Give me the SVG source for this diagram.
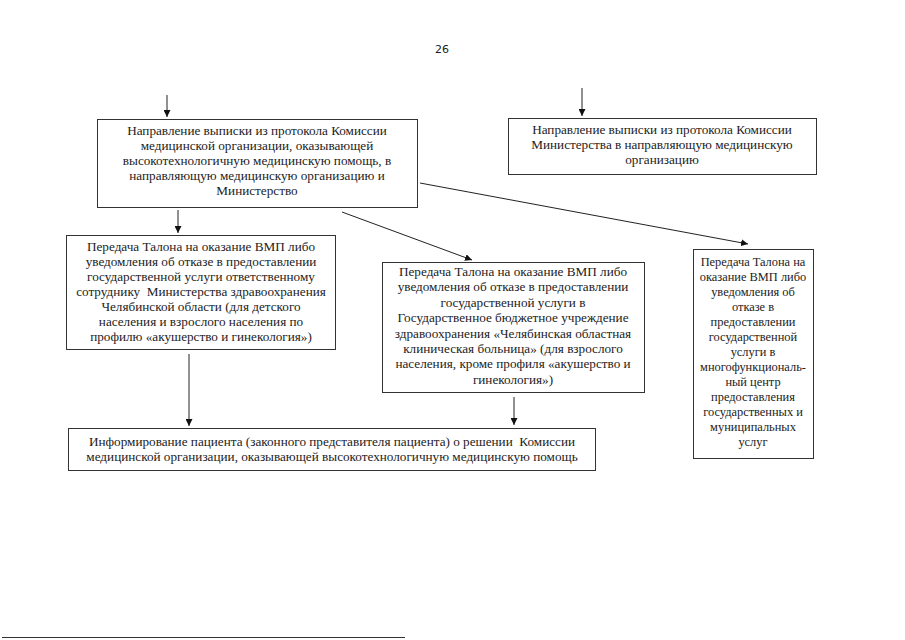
<svg xmlns="http://www.w3.org/2000/svg" width="905" height="640" viewBox="0 0 905 640">
<defs>
<marker id="ah" viewBox="0 0 10 10" refX="10" refY="5" markerWidth="7" markerHeight="7" markerUnits="userSpaceOnUse" orient="auto">
<path d="M0,0 L10,5 L0,10 z" fill="#111"/>
</marker>
<style>
.box{fill:#fff;stroke:#333;stroke-width:1}
.t{font-family:"Liberation Serif","Times New Roman",serif;font-size:13.2px;fill:#222;text-anchor:middle}
.s{font-size:12.4px}
.c{stroke:#222;stroke-width:1;fill:none;marker-end:url(#ah)}
</style>
</defs>
<rect width="905" height="640" fill="#fff"/>
<text x="442" y="53" style="font-family:'DejaVu Sans','Liberation Sans',sans-serif;font-size:11px;fill:#222" text-anchor="middle">26</text>
<g id="connectors">
<line class="c" x1="167" y1="95" x2="167" y2="117"/>
<line class="c" x1="582" y1="88" x2="582" y2="116"/>
<line class="c" x1="178" y1="210" x2="178" y2="233"/>
<line class="c" x1="342" y1="212" x2="472" y2="260"/>
<line class="c" x1="420" y1="183" x2="748" y2="244"/>
<line class="c" x1="189" y1="354" x2="189" y2="426"/>
<line class="c" x1="514" y1="397" x2="514" y2="425"/>
</g>
<g id="n1">
<rect class="box" x="97.5" y="119.5" width="320" height="88"/>
<text class="t" y="135"><tspan x="257" dy="0">Направление выписки из протокола Комиссии</tspan><tspan x="257" dy="15">медицинской организации, оказывающей</tspan><tspan x="257" dy="15">высокотехнологичную медицинскую помощь, в</tspan><tspan x="257" dy="15">направляющую медицинскую организацию и</tspan><tspan x="257" dy="15">Министерство</tspan></text>
</g>
<g id="n2">
<rect class="box" x="508.5" y="118.5" width="308" height="56"/>
<text class="t" y="134"><tspan x="662" dy="0">Направление выписки из протокола Комиссии</tspan><tspan x="662" dy="15">Министерства в направляющую медицинскую</tspan><tspan x="662" dy="15">организацию</tspan></text>
</g>
<g id="n3">
<rect class="box" x="66.5" y="235.5" width="269" height="114"/>
<text class="t" y="251"><tspan x="201" dy="0">Передача Талона на оказание ВМП либо</tspan><tspan x="201" dy="15">уведомления об отказе в предоставлении</tspan><tspan x="201" dy="15">государственной услуги ответственному</tspan><tspan x="201" dy="15">сотруднику&#160; Министерства здравоохранения</tspan><tspan x="201" dy="15">Челябинской области (для детского</tspan><tspan x="201" dy="15">населения и взрослого населения по</tspan><tspan x="201" dy="15">профилю «акушерство и гинекология»)</tspan></text>
</g>
<g id="n4">
<rect class="box" x="382.5" y="262.5" width="262" height="130"/>
<text class="t" y="276"><tspan x="513" dy="0">Передача Талона на оказание ВМП либо</tspan><tspan x="513" dy="15.4">уведомления об отказе в предоставлении</tspan><tspan x="513" dy="15.4">государственной услуги в</tspan><tspan x="513" dy="15.4">Государственное бюджетное учреждение</tspan><tspan x="513" dy="15.4">здравоохранения «Челябинская областная</tspan><tspan x="513" dy="15.4">клиническая больница» (для взрослого</tspan><tspan x="513" dy="15.4">населения, кроме профиля «акушерство и</tspan><tspan x="513" dy="15.4">гинекология»)</tspan></text>
</g>
<g id="n5">
<rect class="box" x="693.5" y="249.5" width="120" height="209"/>
<text class="t s" y="266"><tspan x="753" dy="0">Передача Талона на</tspan><tspan x="753" dy="15">оказание ВМП либо</tspan><tspan x="753" dy="15">уведомления об</tspan><tspan x="753" dy="15">отказе в</tspan><tspan x="753" dy="15">предоставлении</tspan><tspan x="753" dy="15">государственной</tspan><tspan x="753" dy="15">услуги в</tspan><tspan x="753" dy="15">многофункциональ-</tspan><tspan x="753" dy="15">ный центр</tspan><tspan x="753" dy="15">предоставления</tspan><tspan x="753" dy="15">государственных и</tspan><tspan x="753" dy="15">муниципальных</tspan><tspan x="753" dy="15">услуг</tspan></text>
</g>
<g id="n6">
<rect class="box" x="68.5" y="428.5" width="527" height="42"/>
<text class="t" y="446"><tspan x="332" dy="0">Информирование пациента (законного представителя пациента) о решении&#160; Комиссии</tspan><tspan x="332" dy="15">медицинской организации, оказывающей высокотехнологичную медицинскую помощь</tspan></text>
</g>
<line x1="2" y1="637.5" x2="405" y2="637.5" stroke="#333" stroke-width="1"/>
</svg>
